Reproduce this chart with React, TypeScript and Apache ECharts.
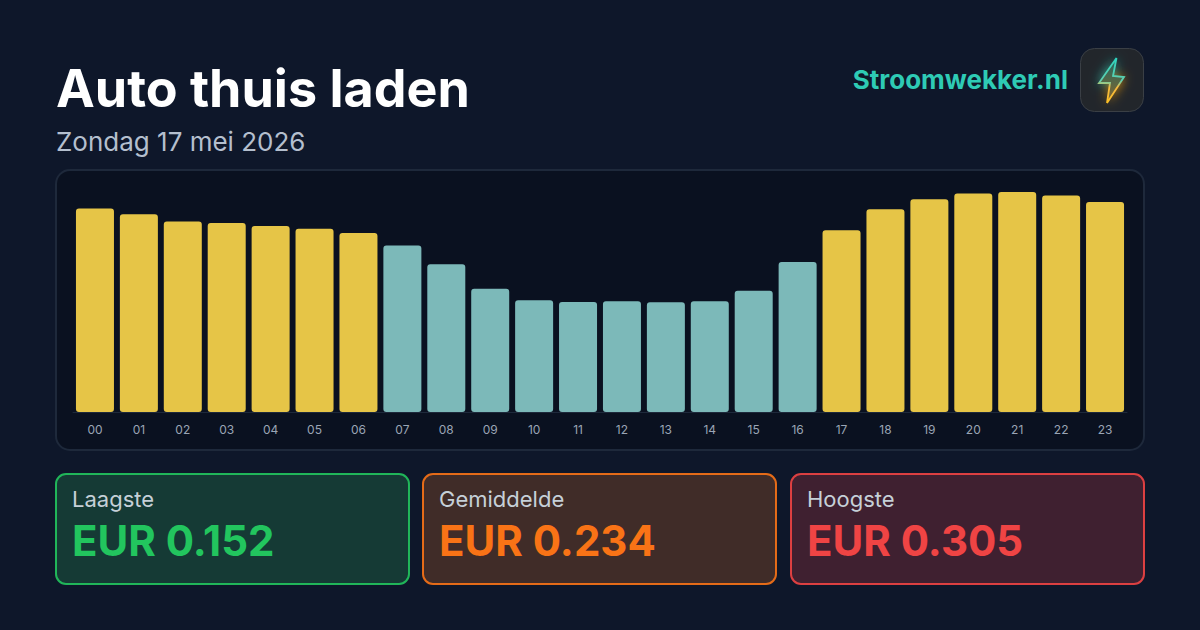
import React, { useEffect, useRef } from "react";
import * as echarts from "echarts";

const hours = ["00","01","02","03","04","05","06","07","08","09","10","11","12","13","14","15","16","17","18","19","20","21","22","23"];
const prices = [0.282,0.274,0.264,0.262,0.258,0.254,0.248,0.231,0.205,0.171,0.155,0.1525,0.1535,0.152,0.1535,0.168,0.208,0.252,0.281,0.295,0.303,0.305,0.300,0.291];
const offPeak = ["07","08","09","10","11","12","13","14","15","16"];
const title = "Auto thuis laden";
const subtitle = "Zondag 17 mei 2026";
const brand = "Stroomwekker.nl";
const cardLabels = ["Laagste", "Gemiddelde", "Hoogste"];
const cardValues = ["EUR 0.152", "EUR 0.234", "EUR 0.305"];
const cardColors = ["#22c55e", "#f97316", "#ef4444"];
const cardStrokes = ["rgba(34,197,94,0.9)", "rgba(249,115,22,0.9)", "rgba(239,68,68,0.9)"];
const cardFills = ["#153a35", "#402c28", "#3f2030"];
const cardX = [56, 423, 791];
const FONT = "Inter";

export default function App() {
  const ref = useRef<HTMLDivElement>(null);
  useEffect(() => {
    document.body.style.margin = "0";
    const chart = echarts.init(ref.current!, null, { renderer: "svg" });
    const cards: any[] = [];
    cardLabels.forEach((l, i) => {
      cards.push({ type: "rect", z: 1, shape: { x: cardX[i], y: 474, width: 353, height: 110, r: 10 }, style: { fill: cardFills[i], stroke: cardStrokes[i], lineWidth: 2 } });
      cards.push({ type: "text", z: 2, x: cardX[i] + 16, y: 488, style: { text: l, fill: "#c6d0d8", font: `400 22px ${FONT}` } });
      cards.push({ type: "text", z: 2, x: cardX[i] + 16, y: 519, style: { text: cardValues[i], fill: cardColors[i], font: `700 42px ${FONT}` } });
    });
    chart.setOption({
      animation: false,
      backgroundColor: "#0e172a",
      grid: { left: 73, right: 73, top: 192, bottom: 218 },
      xAxis: {
        type: "category",
        data: hours,
        axisTick: { show: false },
        axisLine: { lineStyle: { color: "#1e293b", width: 1 } },
        axisLabel: { color: "#9aa5b5", fontSize: 12, fontFamily: FONT, margin: 11, interval: 0 },
      },
      yAxis: { type: "value", min: 0, max: 0.305, show: false, splitLine: { show: false } },
      series: [{
        type: "bar",
        barWidth: 38,
        z: 5,
        data: prices.map((v, i) => ({
          value: v,
          itemStyle: { color: offPeak.includes(hours[i]) ? "#7cb9b9" : "#e6c547", borderRadius: 3 },
        })),
      }],
      graphic: [
        { type: "rect", z: -1, silent: true, shape: { x: 56, y: 170, width: 1088, height: 280, r: 14 }, style: { fill: "#0a1120", stroke: "#1e293b", lineWidth: 2 } },
        { type: "text", x: 56, y: 62, style: { text: title, fill: "#ffffff", font: `700 52px ${FONT}` } },
        { type: "text", x: 56, y: 128, style: { text: subtitle, fill: "#b4bfce", font: `400 26px ${FONT}` } },
        { type: "text", x: 1068, y: 66, style: { text: brand, fill: "#2ecbb5", font: `700 26px ${FONT}`, align: "right" } },
        { type: "rect", shape: { x: 1080.5, y: 48.5, width: 63, height: 63, r: 14 }, style: { fill: "#22262b", stroke: "#3a3f45", lineWidth: 1 } },
        { type: "polygon", shape: { points: [[1116.5, 58], [1099, 83], [1110, 83], [1113, 76]] }, style: { fill: "#1a8a84", shadowBlur: 12, shadowColor: "#2dd4bf" } },
        { type: "polygon", shape: { points: [[1110, 83], [1107, 103], [1124, 77], [1113, 76]] }, style: { fill: "#a0742a", shadowBlur: 12, shadowColor: "#f59e0b" } },
        { type: "polygon", shape: { points: [[1116.5, 58], [1099, 83], [1110, 83], [1107, 103], [1124, 77], [1113, 76]] },
          style: { fill: new echarts.graphic.LinearGradient(0, 0, 0, 1, [{ offset: 0, color: "#1c6a66" }, { offset: 1, color: "#8a6428" }]),
            stroke: new echarts.graphic.LinearGradient(0, 0, 0, 1, [{ offset: 0, color: "#2dd4bf" }, { offset: 0.5, color: "#5fd0b0" }, { offset: 0.65, color: "#f5b942" }, { offset: 1, color: "#fbbf24" }]), lineWidth: 1.8 } },
        ...cards,
      ],
    });
    return () => chart.dispose();
  }, []);
  return <div ref={ref} style={{ width: 1200, height: 630 }} />;
}
